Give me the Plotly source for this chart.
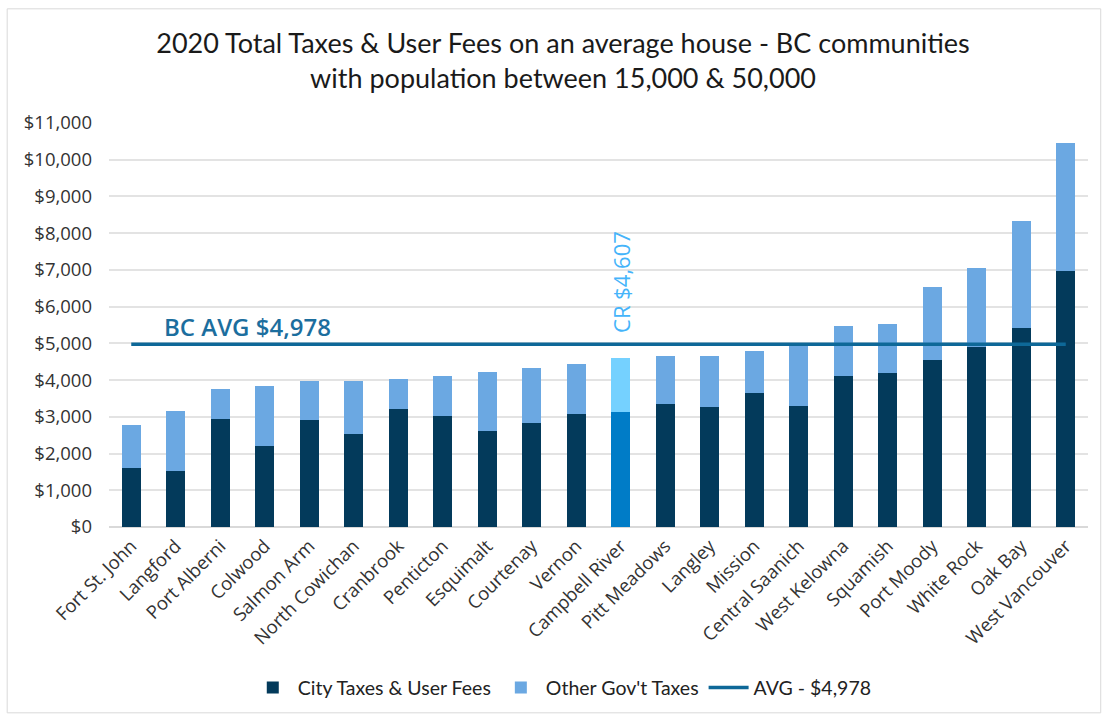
import plotly.graph_objects as go

categories = ["Fort St. John", "Langford", "Port Alberni", "Colwood", "Salmon Arm",
              "North Cowichan", "Cranbrook", "Penticton", "Esquimalt", "Courtenay",
              "Vernon", "Campbell River", "Pitt Meadows", "Langley", "Mission",
              "Central Saanich", "West Kelowna", "Squamish", "Port Moody", "White Rock",
              "Oak Bay", "West Vancouver"]
city_taxes = [1620, 1530, 2950, 2210, 2900, 2520, 3200, 3030, 2610, 2830,
              3080, 3120, 3340, 3260, 3650, 3290, 4120, 4190, 4560, 4900,
              5420, 6970]
other_taxes = [1150, 1640, 810, 1640, 1080, 1460, 820, 1080, 1620, 1490,
               1370, 1487, 1320, 1400, 1140, 1700, 1350, 1330, 1980, 2160,
               2900, 3490]
bc_avg = 4978
cr_total = 4607
highlight = "Campbell River"
y_ticks = list(range(0, 11001, 1000))
y_tick_text = ["$" + format(v, ",") for v in y_ticks]

DARK = "#033A5B"
LIGHT = "#6BA8E2"
HL_DARK = "#007CC7"
HL_LIGHT = "#75D1FF"
AVG_COLOR = "#0E6898"

dark_colors = [HL_DARK if c == highlight else DARK for c in categories]
light_colors = [HL_LIGHT if c == highlight else LIGHT for c in categories]

title_font = "Lato, Noto Sans, sans-serif"
ui = "Open Sans, Noto Sans, DejaVu Sans, sans-serif"

fig = go.Figure()
fig.add_trace(go.Bar(x=categories, y=city_taxes, name="City Taxes & User Fees",
                     marker=dict(color=dark_colors, line=dict(width=0))))
fig.add_trace(go.Bar(x=categories, y=other_taxes, name="Other Gov't Taxes",
                     marker=dict(color=light_colors, line=dict(width=0))))
fig.add_trace(go.Scatter(x=categories, y=[bc_avg] * len(categories), mode="lines",
                         name="AVG - $" + format(bc_avg, ","),
                         line=dict(color=AVG_COLOR, width=3.5)))

fig.add_annotation(x=0.5, xref="x", y=bc_avg, yref="y", text="BC AVG $" + format(bc_avg, ","),
                   showarrow=False, xanchor="left", yanchor="bottom", yshift=-1, xshift=8,
                   font=dict(family=ui, size=24, color="#1C6E9E", weight=600))
fig.add_annotation(x=highlight, xref="x", y=bc_avg, yref="y", text="CR $" + format(cr_total, ","),
                   showarrow=False, textangle=-90, xanchor="center", yanchor="bottom", yshift=9,
                   font=dict(family=ui, size=22, color="#45B4FA"))

fig.add_shape(type="rect", xref="paper", yref="paper", x0=-0.104, x1=1.013, y0=-0.46, y1=1.2826,
              line=dict(color="#D9D9D9", width=1), fillcolor="rgba(0,0,0,0)", layer="below")

fig.update_layout(
    width=1104, height=719,
    margin=dict(l=109, r=16, t=123, b=189),
    barmode="stack", bargap=0.57,
    plot_bgcolor="white", paper_bgcolor="white",
    title=dict(text="2020 Total Taxes & User Fees on an average house - BC communities<br>with population between 15,000 & 50,000",
               x=0.51, xanchor="center", y=0.926, yanchor="top",
               font=dict(family=title_font, size=27, color="#1A1A1A")),
    legend=dict(orientation="h", x=0.463, xanchor="center", y=-0.398, yanchor="middle",
                font=dict(family=title_font, size=19.5, color="#222222"), itemwidth=40,
                traceorder="normal"),
    showlegend=True,
)
fig.update_xaxes(tickangle=-45, tickfont=dict(family=ui, size=18.5, color="#333333"),
                 showgrid=False, showline=True, linecolor="#D9D9D9", linewidth=1,
                 ticks="")
fig.update_yaxes(range=[0, 11000], tickvals=y_ticks, ticktext=y_tick_text,
                 tickfont=dict(family=ui, size=18.5, color="#333333"),
                 showgrid=True, gridcolor="#E3E3E3", gridwidth=1.5,
                 zeroline=True, zerolinecolor="#D9D9D9", zerolinewidth=1.5,
                 ticklabelstandoff=16)

fig.write_html("out.html", config={"displayModeBar": False},
               post_script="document.body.style.margin='0';document.body.style.padding='0';")
